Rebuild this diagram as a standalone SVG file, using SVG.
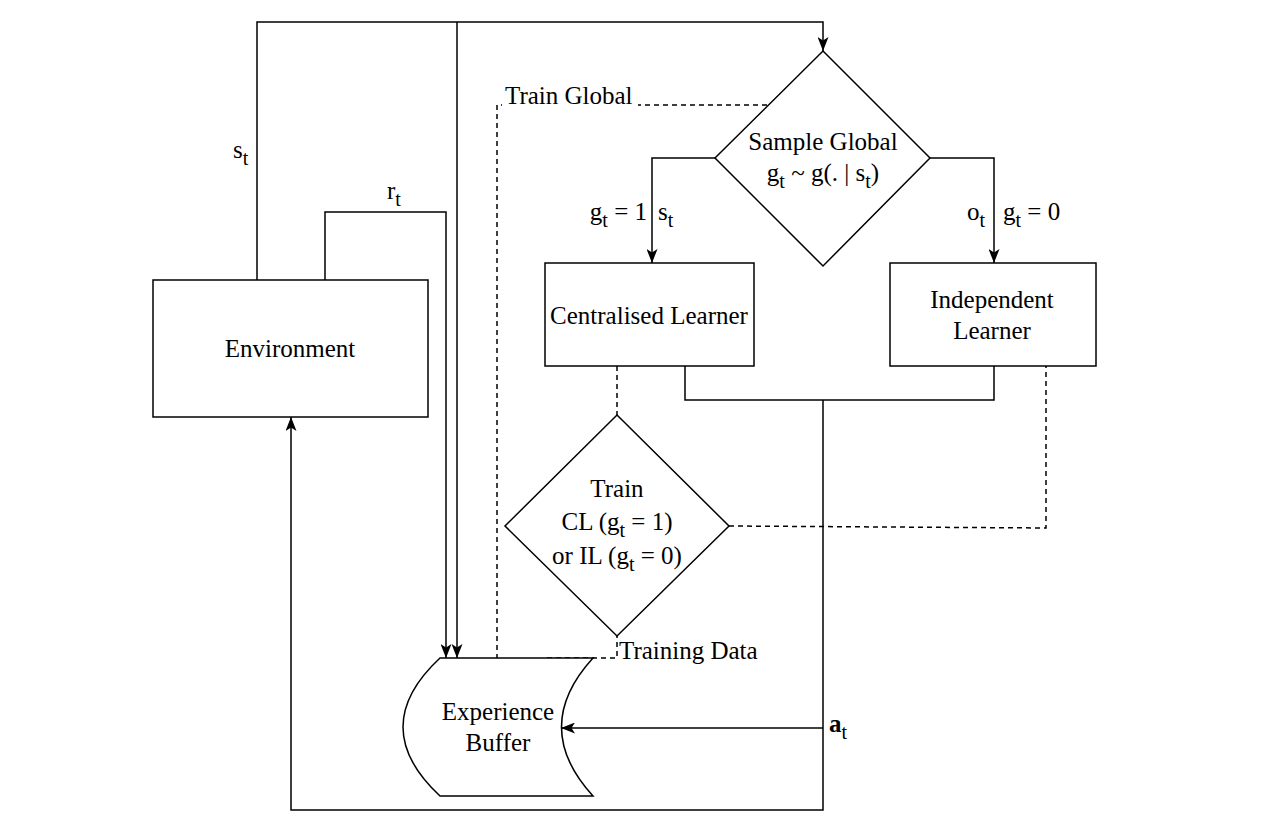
<svg xmlns="http://www.w3.org/2000/svg" width="1267" height="829" viewBox="0 0 1267 829">
<defs>
<marker id="arr" viewBox="0 0 14 11" refX="14" refY="5.5" markerWidth="14" markerHeight="11" markerUnits="userSpaceOnUse" orient="auto">
<path d="M0,0 L14,5.5 L0,11 L3.5,5.5 z" fill="#000"/>
</marker>
</defs>
<style>
.ln{fill:none;stroke:#000;stroke-width:1.5}
.ds{fill:none;stroke:#000;stroke-width:1.5;stroke-dasharray:5 4}
.sh{fill:#fff;stroke:#000;stroke-width:1.5}
text{font-family:"Liberation Serif","Times New Roman",serif;font-size:25px;fill:#000}
.c{text-anchor:middle}
.sub{font-size:20px}
</style>
<rect width="1267" height="829" fill="#fff"/>
<g id="connectors">
<path class="ln" d="M257,280 L257,22 L823,22 L823,51" marker-end="url(#arr)"/>
<path class="ln" d="M457,22 L457,658" marker-end="url(#arr)"/>
<path class="ln" d="M325,280 L325,212 L446,212 L446,658" marker-end="url(#arr)"/>
<path class="ln" d="M715,158 L652,158 L652,263" marker-end="url(#arr)"/>
<path class="ln" d="M930,158 L994,158 L994,263" marker-end="url(#arr)"/>
<path class="ln" d="M685,366 L685,400 L994,400 L994,366"/>
<path class="ln" d="M823,400 L823,810 L291,810 L291,417" marker-end="url(#arr)"/>
<path class="ln" d="M823,728 L561,728" marker-end="url(#arr)"/>
<path class="ds" d="M767,105 L497,105 L497,658"/>
<path class="ds" d="M617,366 L617,415"/>
<path class="ds" d="M729,526 L1046,528 L1046,366"/>
<path class="ds" d="M547,658 L617,658 L617,636"/>
</g>
<g id="labels">
<rect x="502" y="82" width="136" height="30" fill="#fff"/>
<text x="505" y="104">Train Global</text>
<text x="233" y="158">s<tspan class="sub" dy="7">t</tspan></text>
<text x="387" y="199">r<tspan class="sub" dy="7">t</tspan></text>
<text x="647" y="220" text-anchor="end">g<tspan class="sub" dy="7">t</tspan><tspan dy="-7"> = 1</tspan></text>
<text x="658" y="220">s<tspan class="sub" dy="7">t</tspan></text>
<text x="967" y="220">o<tspan class="sub" dy="7">t</tspan></text>
<text x="1003" y="220">g<tspan class="sub" dy="7">t</tspan><tspan dy="-7"> = 0</tspan></text>
<rect x="619" y="640" width="142" height="26" fill="#fff"/>
<text x="619" y="659">Training Data</text>
<text x="829" y="732" font-weight="bold">a<tspan class="sub" font-weight="normal" dy="7">t</tspan></text>
</g>
<g id="environment">
<rect class="sh" x="153" y="280" width="275" height="137"/>
<text class="c" x="290" y="357">Environment</text>
</g>
<g id="sample-global">
<path class="sh" d="M823,51 L930,158 L823,266 L715,158 Z"/>
<text class="c" x="823" y="150">Sample Global</text>
<text class="c" x="823" y="181">g<tspan class="sub" dy="7">t</tspan><tspan dy="-7"> ~ g(. | s</tspan><tspan class="sub" dy="7">t</tspan><tspan dy="-7">)</tspan></text>
</g>
<g id="centralised-learner">
<rect class="sh" x="545" y="263" width="209" height="103"/>
<text class="c" x="649" y="324">Centralised Learner</text>
</g>
<g id="independent-learner">
<rect class="sh" x="890" y="263" width="206" height="103"/>
<text class="c" x="992" y="308">Independent</text>
<text class="c" x="992" y="339">Learner</text>
</g>
<g id="train">
<path class="sh" d="M617,415 L729,526 L617,636 L505,526 Z"/>
<text class="c" x="617" y="497">Train</text>
<text class="c" x="617" y="530">CL (g<tspan class="sub" dy="7">t</tspan><tspan dy="-7"> = 1)</tspan></text>
<text class="c" x="617" y="564">or IL (g<tspan class="sub" dy="7">t</tspan><tspan dy="-7"> = 0)</tspan></text>
</g>
<g id="experience-buffer">
<path class="sh" d="M440,658 L593,658 Q530,727 593,796 L440,796 Q366,727 440,658 Z"/>
<text class="c" x="498" y="720">Experience</text>
<text class="c" x="498" y="751">Buffer</text>
</g>
</svg>
